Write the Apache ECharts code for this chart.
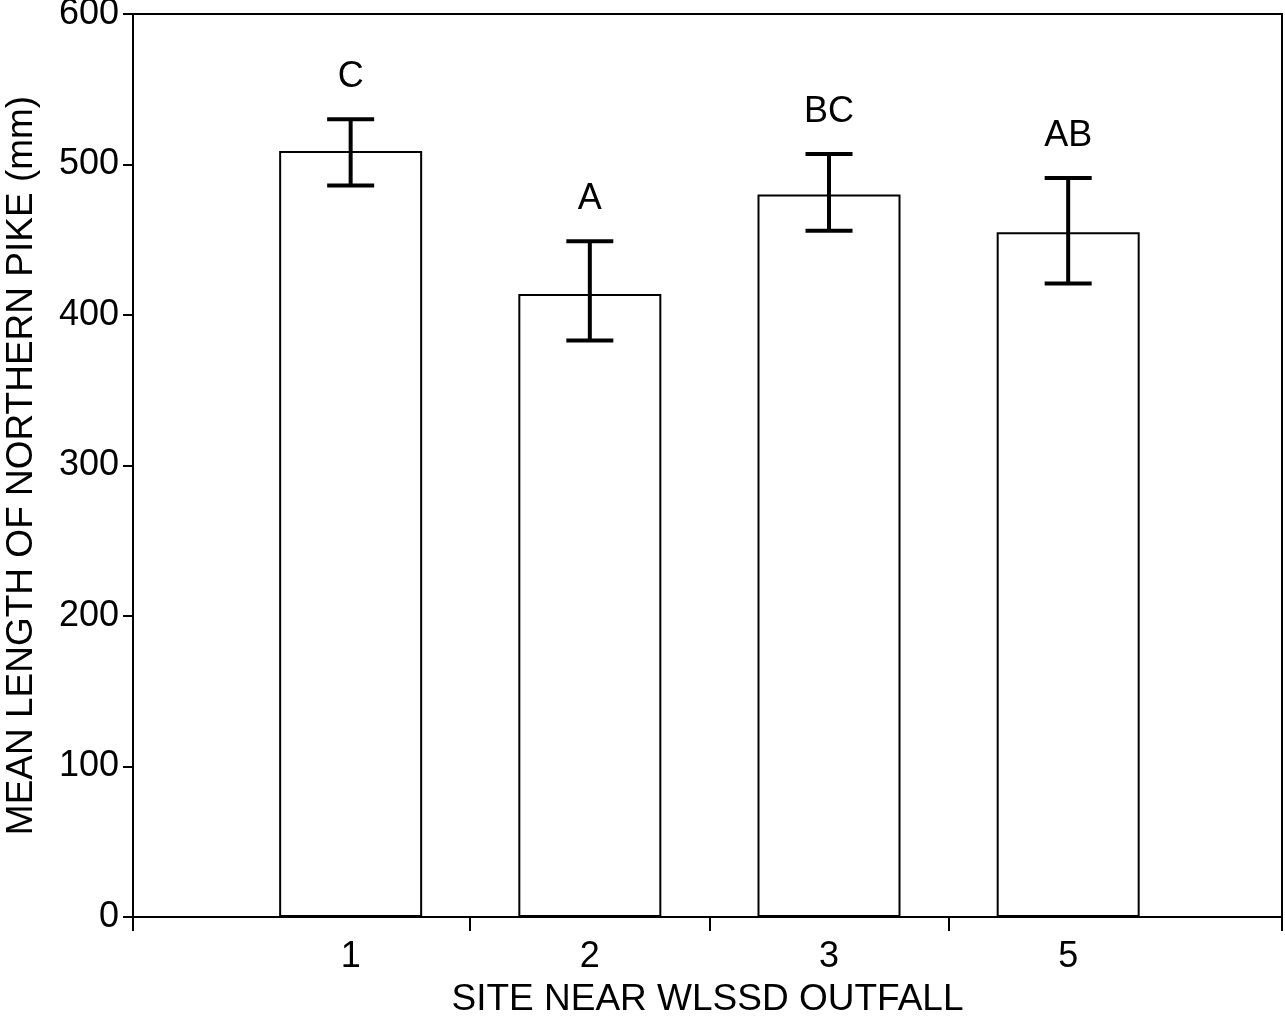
<!DOCTYPE html>
<html>
<head>
<meta charset="utf-8">
<script src="https://cdn.jsdelivr.net/npm/echarts@6/dist/echarts.min.js"></script>
<style>
html,body{margin:0;padding:0;background:#fff;}
#chart{width:1285px;height:1018px;}
</style>
</head>
<body>
<div id="chart"></div>
<script>
// Data
const sites = ['1', '2', '3', '5'];
const meanLength = [509, 414, 480, 455];
const errHigh = [530, 449, 507, 491];
const errLow = [486, 383, 456, 421];
const groupLetters = ['C', 'A', 'BC', 'AB'];
const yTicks = [0, 100, 200, 300, 400, 500, 600];

const FONT = 'Liberation Sans, Arial, Helvetica, sans-serif';
const xMin = -0.91, xMax = 3.894;

const chart = echarts.init(document.getElementById('chart'));

const barData = sites.map((s, i) => [i, meanLength[i]]);
const errData = sites.map((s, i) => [i, errLow[i], errHigh[i], groupLetters[i]]);

const option = {
  animation: false,
  backgroundColor: '#fff',
  grid: {
    left: 133, top: 14, right: 3, bottom: 101,
    containLabel: false, outerBoundsMode: 'none',
    show: true, borderColor: '#000', borderWidth: 2, backgroundColor: 'transparent'
  },
  xAxis: {
    type: 'value',
    min: xMin, max: xMax,
    name: 'SITE NEAR WLSSD OUTFALL',
    nameLocation: 'middle',
    nameGap: 64,
    nameTextStyle: { fontFamily: FONT, fontSize: 37, color: '#000' },
    axisLine: { show: true, onZero: false, lineStyle: { color: '#000', width: 2 } },
    axisTick: { show: true, inside: false, length: 14, lineStyle: { color: '#000', width: 2 },
      customValues: [xMin, 0.5, 1.5, 2.5, xMax] },
    axisLabel: { show: true, margin: 22, fontFamily: FONT, fontSize: 36, color: '#000',
      customValues: [0, 1, 2, 3],
      formatter: v => sites[Math.round(v)] },
    splitLine: { show: false }
  },
  yAxis: {
    type: 'value',
    min: yTicks[0], max: yTicks[yTicks.length - 1], interval: 100,
    name: 'MEAN LENGTH OF NORTHERN PIKE (mm)',
    nameLocation: 'middle',
    nameGap: 93,
    nameTextStyle: { fontFamily: FONT, fontSize: 37, color: '#000' },
    axisLine: { show: true, onZero: false, lineStyle: { color: '#000', width: 2 } },
    axisTick: { show: true, inside: false, length: 10, lineStyle: { color: '#000', width: 2 } },
    axisLabel: { margin: 14, fontFamily: FONT, fontSize: 36, color: '#000' },
    splitLine: { show: false }
  },
  series: [
    {
      type: 'bar',
      data: barData,
      barWidth: 143,
      itemStyle: { color: '#fff', borderColor: '#000', borderWidth: 2 },
      z: 2
    },
    {
      type: 'custom',
      data: errData,
      z: 5,
      renderItem: function (params, api) {
        const x = api.value(0);
        const lo = api.coord([x, api.value(1)]);
        const hi = api.coord([x, api.value(2)]);
        const half = 23.5;
        const st = { stroke: '#000', lineWidth: 4 };
        return {
          type: 'group',
          children: [
            { type: 'line', shape: { x1: hi[0], y1: hi[1], x2: lo[0], y2: lo[1] }, style: st },
            { type: 'line', shape: { x1: hi[0] - half, y1: hi[1], x2: hi[0] + half, y2: hi[1] }, style: st },
            { type: 'line', shape: { x1: lo[0] - half, y1: lo[1], x2: lo[0] + half, y2: lo[1] }, style: st },
            { type: 'text', style: { text: groupLetters[params.dataIndex], x: hi[0], y: hi[1] - 42,
                textAlign: 'center', textVerticalAlign: 'middle',
                font: '36px ' + FONT, fill: '#000' } }
          ]
        };
      }
    }
  ]
};
chart.setOption(option);
</script>
</body>
</html>
